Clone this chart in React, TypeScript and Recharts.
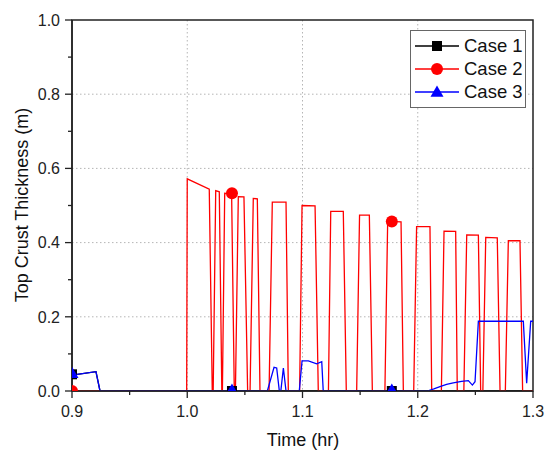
import {
  CartesianGrid,
  ComposedChart,
  Legend,
  Line,
  ReferenceArea,
  Scatter,
  XAxis,
  YAxis,
} from "recharts";

// time (hr) / top crust thickness (m)
const case1Time = [0.9, 0.9208, 0.9243, 1.3];
const case1Thickness = [0.043, 0.052, 0, 0];

const case2Time = [
  0.9, 0.9995, 1.0, 1.0191, 1.0217, 1.0225, 1.0247, 1.0278, 1.03, 1.0305, 1.0325, 1.0385, 1.0408,
  1.0418, 1.0443, 1.0492, 1.0524, 1.0545, 1.0573, 1.0608, 1.0631, 1.071, 1.0738, 1.0857, 1.0877,
  1.0975, 1.0996, 1.1109, 1.1137, 1.1225, 1.1245, 1.1354, 1.138, 1.147, 1.1495, 1.158, 1.1606,
  1.1715, 1.1739, 1.1855, 1.1875, 1.1965, 1.199, 1.2106, 1.2121, 1.2205, 1.2228, 1.2329, 1.2343,
  1.24, 1.2425, 1.2526, 1.2546, 1.2565, 1.259, 1.269, 1.2714, 1.276, 1.2786, 1.2887, 1.291, 1.3,
];
const case2Thickness = [
  0, 0, 0.572, 0.544, 0, 0, 0.54, 0.537, 0, 0, 0.533, 0.531, 0,
  0, 0.524, 0.523, 0, 0, 0.519, 0.518, 0, 0, 0.509, 0.509, 0,
  0, 0.5, 0.499, 0, 0, 0.484, 0.484, 0, 0, 0.474, 0.474, 0,
  0, 0.457, 0.456, 0, 0, 0.443, 0.443, 0, 0, 0.431, 0.43, 0,
  0, 0.421, 0.42, 0, 0, 0.414, 0.413, 0, 0, 0.405, 0.405, 0, 0,
];

const case3Time = [
  0.9, 0.9208, 0.9243, 1.0695, 1.0753, 1.0776, 1.0799, 1.0812, 1.0834, 1.0857, 1.0972, 1.0996,
  1.1051, 1.1123, 1.1167, 1.118, 1.2083, 1.214, 1.2193, 1.225, 1.2308, 1.238, 1.2439, 1.2474,
  1.2497, 1.2526, 1.2916, 1.2945, 1.298, 1.3,
];
const case3Thickness = [
  0.043, 0.052, 0, 0, 0.064, 0.062, 0, 0, 0.062, 0, 0, 0.081,
  0.081, 0.073, 0.079, 0, 0, 0.006, 0.012, 0.018, 0.022, 0.026, 0.028, 0.016,
  0.025, 0.188, 0.188, 0.021, 0.188, 0.188,
];

// symbols are only drawn at a few samples
const markerTime = [0.9, 1.0388, 1.1775];
const case1Marker = [0.045, 0, 0];
const case2Marker = [0, 0.533, 0.457];
const case3Marker = [0.045, 0, 0];

const xTicks = [0.9, 0.95, 1.0, 1.05, 1.1, 1.15, 1.2, 1.25, 1.3];
const xLabels = [0.9, 1.0, 1.1, 1.2, 1.3];
const yTicks = [0, 0.1, 0.2, 0.3, 0.4, 0.5, 0.6, 0.7, 0.8, 0.9, 1.0];
const yLabels = [0, 0.2, 0.4, 0.6, 0.8, 1.0];

const legendNames = ["Case 1", "Case 2", "Case 3"];
const colors = ["#000000", "#ff0000", "#0000ff"];

const toPoints = (t: number[], v: number[]) => t.map((time, i) => ({ t: time, v: v[i] }));

const case1Data = toPoints(case1Time, case1Thickness);
const case2Data = toPoints(case2Time, case2Thickness);
const case3Data = toPoints(case3Time, case3Thickness);
const case1Markers = toPoints(markerTime, case1Marker);
const case2Markers = toPoints(markerTime, case2Marker);
const case3Markers = toPoints(markerTime, case3Marker);

const FONT = "Arial, 'Liberation Sans', sans-serif";
const AXIS = "#222";

const XTick = (props: any) => {
  const { x, y, payload } = props;
  const major = xLabels.includes(payload.value);
  return (
    <g>
      <line x1={x} x2={x} y1={y} y2={y + (major ? 7 : 4)} stroke={AXIS} strokeWidth={1.3} />
      {major && (
        <text x={x} y={y + 26} textAnchor="middle" fontSize={16} fontFamily={FONT} fill="#222">
          {payload.value.toFixed(1)}
        </text>
      )}
    </g>
  );
};

const YTick = (props: any) => {
  const { x, y, payload } = props;
  const major = yLabels.includes(payload.value);
  return (
    <g>
      <line x1={x} x2={x - (major ? 7 : 4)} y1={y} y2={y} stroke={AXIS} strokeWidth={1.3} />
      {major && (
        <text x={x - 12} y={y} dy="0.36em" textAnchor="end" fontSize={16} fontFamily={FONT} fill="#222">
          {payload.value.toFixed(1)}
        </text>
      )}
    </g>
  );
};

// triangle is centred on its centroid, like Origin does
const Marker = ({ kind, cx, cy, color }: { kind: number; cx: number; cy: number; color: string }) => {
  if (kind === 0) return <rect x={cx - 5} y={cy - 5} width={10} height={10} fill={color} />;
  if (kind === 1) return <circle cx={cx} cy={cy} r={6} fill={color} />;
  return <polygon points={`${cx},${cy - 7.5} ${cx + 6.5},${cy + 3.8} ${cx - 6.5},${cy + 3.8}`} fill={color} />;
};

const LegendBox = () => (
  <div
    style={{
      border: "1px solid #666",
      background: "#fff",
      padding: "3px 0",
      width: 114,
      fontFamily: FONT,
      fontSize: 18.5,
      color: "#111",
    }}>
    {legendNames.map((name, i) => (
      <div key={name} style={{ display: "flex", alignItems: "center", height: 23.3 }}>
        <svg width={48} height={20} style={{ marginLeft: 3 }}>
          <line x1={1} x2={45} y1={10} y2={10} stroke={colors[i]} strokeWidth={1.5} />
          <Marker kind={i} cx={23} cy={i === 2 ? 11 : 10} color={colors[i]} />
        </svg>
        <span style={{ marginLeft: 2 }}>{name}</span>
      </div>
    ))}
  </div>
);

export default function App() {
  return (
    <div>
      <style>{"body{margin:0}"}</style>
      <ComposedChart width={547} height={450} margin={{ top: 20, right: 14, bottom: 0, left: 0 }}>
        <CartesianGrid
          stroke="#b5b5b5"
          strokeDasharray="1.5 2.5"
          verticalValues={[1.0, 1.1, 1.2]}
          horizontalValues={[0.2, 0.4, 0.6, 0.8]}
        />
        <XAxis
          dataKey="t"
          type="number"
          domain={[0.9, 1.3]}
          ticks={xTicks}
          interval={0}
          allowDataOverflow
          height={59}
          tickSize={0}
          tickMargin={0}
          tickLine={false}
          axisLine={{ stroke: AXIS, strokeWidth: 1.5 }}
          tick={<XTick />}
          label={{
            content: () => (
              <text x={303} y={446} textAnchor="middle" fontSize={18} fontFamily={FONT} fill="#111">
                Time (hr)
              </text>
            ),
          }}
        />
        <YAxis
          dataKey="v"
          type="number"
          domain={[0, 1]}
          ticks={yTicks}
          interval={0}
          allowDataOverflow
          width={72}
          tickSize={0}
          tickMargin={0}
          tickLine={false}
          axisLine={{ stroke: AXIS, strokeWidth: 1.5 }}
          tick={<YTick />}
          label={{
            content: () => (
              <text
                x={22}
                y={205}
                transform="rotate(-90 22 205)"
                textAnchor="middle"
                dominantBaseline="central"
                fontSize={18}
                fontFamily={FONT}
                fill="#111">
                Top Crust Thickness (m)
              </text>
            ),
          }}
        />
        <ReferenceArea x1={0.9} x2={1.3} y1={0} y2={1} fill="none" stroke={AXIS} strokeWidth={1.5} />
        <Line data={case1Data} dataKey="v" type="linear" stroke={colors[0]} strokeWidth={1.3} dot={false} activeDot={false} isAnimationActive={false} />
        <Line data={case2Data} dataKey="v" type="linear" stroke={colors[1]} strokeWidth={1.3} dot={false} activeDot={false} isAnimationActive={false} />
        <Line data={case3Data} dataKey="v" type="linear" stroke={colors[2]} strokeWidth={1.3} dot={false} activeDot={false} isAnimationActive={false} />
        <Scatter
          data={case1Markers}
          dataKey="v"
          isAnimationActive={false}
          shape={(p: any) => <Marker kind={0} cx={p.cx} cy={p.cy} color={colors[0]} />}
        />
        <Scatter
          data={case2Markers}
          dataKey="v"
          isAnimationActive={false}
          shape={(p: any) => <Marker kind={1} cx={p.cx} cy={p.cy} color={colors[1]} />}
        />
        <Scatter
          data={case3Markers}
          dataKey="v"
          isAnimationActive={false}
          shape={(p: any) => <Marker kind={2} cx={p.cx} cy={p.cy} color={colors[2]} />}
        />
        <Legend
          layout="vertical"
          align="center"
          verticalAlign="middle"
          content={<LegendBox />}
          wrapperStyle={{ position: "absolute", left: 410, top: 30, width: 116, height: 76 }}
        />
      </ComposedChart>
    </div>
  );
}
